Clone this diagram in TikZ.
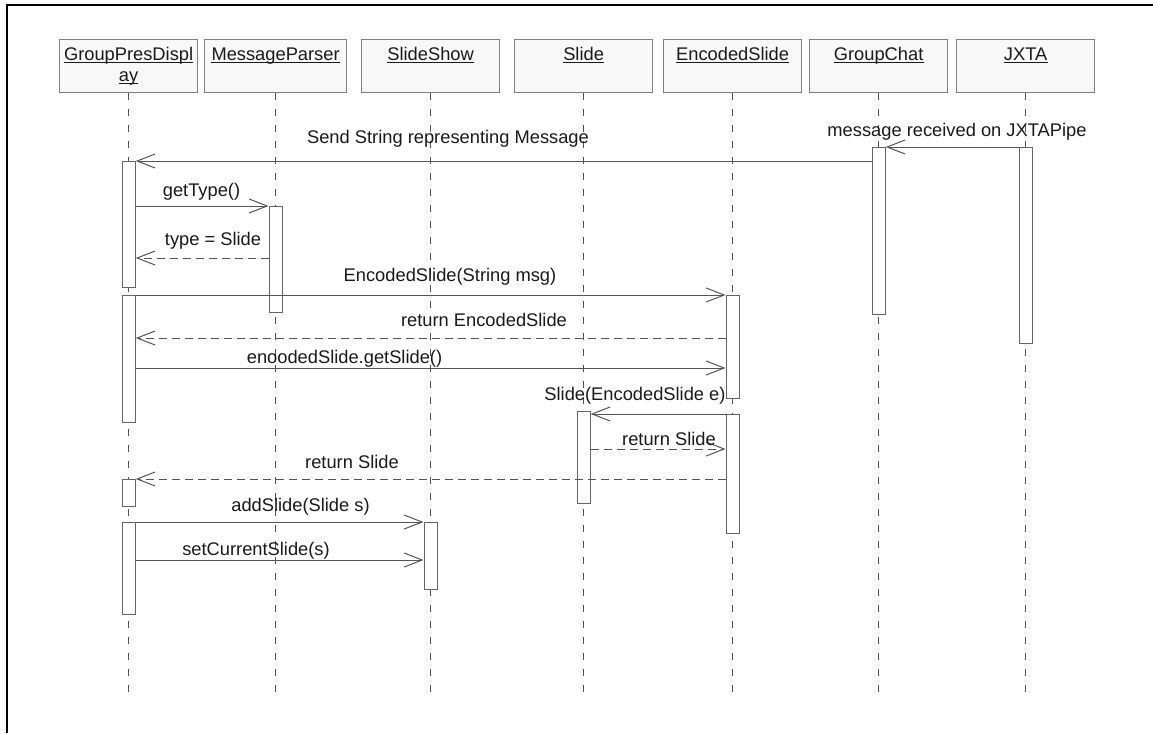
\documentclass[tikz,border=0pt]{standalone}
\usepackage{fontspec}
\setmainfont{Liberation Sans}
\usetikzlibrary{arrows.meta}
\definecolor{linegray}{HTML}{555555}
\definecolor{boxgray}{HTML}{808080}
\definecolor{actgray}{HTML}{666666}
\definecolor{hdrfill}{HTML}{F8F8F8}
\definecolor{txt}{HTML}{1A1A1A}

\begin{document}
\begin{tikzpicture}[x=1pt,y=-1pt,
  font=\fontsize{18.3}{22}\selectfont,
  hdr/.style={draw=boxgray, fill=hdrfill, line width=1.2pt, minimum height=53pt,
    inner sep=0pt, anchor=north west},
  title/.style={anchor=base, inner sep=0pt, text=txt},
  uline/.style={line width=1.4pt, draw=txt},
  life/.style={draw=linegray, line width=1pt, dash pattern=on 7pt off 9pt},
  act/.style={draw=actgray, fill=white, line width=1.2pt, minimum width=13pt,
    inner sep=0pt, anchor=north},
  msg/.style={draw=linegray, line width=1pt,
    -{Straight Barb[length=18pt,width=14pt,line width=1pt]}},
  ret/.style={msg, dash pattern=on 8pt off 5pt},
  lbl/.style={anchor=base, inner sep=0pt, text=txt}]

\useasboundingbox (0,0) rectangle (1153,733);

% frame
\draw[line width=2pt] (7,733) -- (7,5) -- (1153,5);

% object headers
\node[hdr, minimum width=138pt] (gp) at (59,39) {};
\node[hdr, minimum width=142pt] (mp) at (204,39) {};
\node[hdr, minimum width=138pt] (ss) at (361,39) {};
\node[hdr, minimum width=138pt] (sl) at (514,39) {};
\node[hdr, minimum width=138pt] (es) at (663,39) {};
\node[hdr, minimum width=138pt] (gc) at (809,39) {};
\node[hdr, minimum width=138pt] (jx) at (956,39) {};

\node[title] (gpT1) at ([yshift=-22pt]gp.north) {GroupPresDispl};
\node[title] (gpT2) at ([yshift=-43pt]gp.north) {ay};
\node[title] (mpT) at ([yshift=-22pt]mp.north) {MessageParser};
\node[title] (ssT) at ([yshift=-22pt]ss.north) {SlideShow};
\node[title] (slT) at ([yshift=-22pt]sl.north) {Slide};
\node[title] (esT) at ([yshift=-22pt]es.north) {EncodedSlide};
\node[title] (gcT) at ([yshift=-22pt]gc.north) {GroupChat};
\node[title] (jxT) at ([yshift=-22pt]jx.north) {JXTA};
\foreach \t in {gpT1,gpT2,mpT,ssT,slT,esT,gcT,jxT}
  \draw[uline] ([yshift=-1.8pt]\t.base west) -- ([yshift=-1.8pt]\t.base east);

% lifelines
\coordinate (bottom) at (0,698);
\foreach \o in {gp,mp,ss,sl,es,gc,jx}
  \draw[life] (\o.south) -- (\o.south |- bottom);

% activation bars
\node[act, minimum height=126pt] (gpA) at (gp.south |- 0,161) {};
\node[act, minimum height=127pt] (gpB) at (gp.south |- 0,295) {};
\node[act, minimum height=27pt]  (gpC) at (gp.south |- 0,479) {};
\node[act, minimum height=92pt]  (gpD) at (gp.south |- 0,522) {};
\node[act, minimum height=106pt] (mpA) at (mp.south |- 0,206) {};
\node[act, minimum height=67pt]  (ssA) at (ss.south |- 0,522) {};
\node[act, minimum height=92pt]  (slA) at (sl.south |- 0,411) {};
\node[act, minimum height=103pt] (esA) at (es.south |- 0,295) {};
\node[act, minimum height=119pt] (esB) at (es.south |- 0,414) {};
\node[act, minimum height=167pt] (gcA) at (gc.south |- 0,147) {};
\node[act, minimum height=196pt] (jxA) at (jx.south |- 0,147) {};

% messages
\draw[msg] (jxA.north west) -- (gcA.north east);
\draw[msg] (gcA.west |- gpA.north) -- (gpA.north east);
\draw[msg] (gpA.east |- mpA.north) -- (mpA.north west);
\draw[ret] (mpA.west |- 0,258) -- (gpA.east |- 0,258);
\draw[msg] (gpB.north east) -- (esA.north west);
\draw[ret] (esA.west |- 0,338) -- (gpB.east |- 0,338);
\draw[msg] (gpB.east |- 0,368) -- (esA.west |- 0,368);
\draw[msg] (esB.north west) -- (slA.east |- esB.north);
\draw[ret] (slA.east |- 0,449) -- (esB.west |- 0,449);
\draw[ret] (esB.west |- gpC.north) -- (gpC.north east);
\draw[msg] (gpD.north east) -- (ssA.north west);
\draw[msg] (gpD.east |- 0,560) -- (ssA.west |- 0,560);

% message labels
\node[lbl] (l1)  at (448,143)   {Send String representing Message};
\node[lbl] (l2)  at (957,136)   {message received on JXTAPipe};
\node[lbl] (l3)  at (201.5,196) {getType()};
\node[lbl] (l4)  at (213,245)   {type = Slide};
\node[lbl] (l5)  at (450,281)   {EncodedSlide(String msg)};
\node[lbl] (l6)  at (484,326)   {return EncodedSlide};
\node[lbl] (l7)  at (344.5,363) {enoodedSlide.getSlide()};
\node[lbl] (l8)  at (635,400)   {Slide(EncodedSlide e)};
\node[lbl] (l9)  at (669,445)   {return Slide};
\node[lbl] (l10) at (352,468)   {return Slide};
\node[lbl] (l11) at (300.5,511) {addSlide(Slide s)};
\node[lbl] (l12) at (256,555)   {setCurrentSlide(s)};
\end{tikzpicture}
\end{document}
